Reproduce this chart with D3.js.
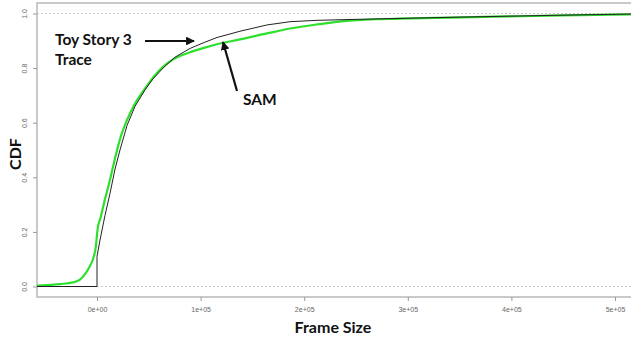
<!DOCTYPE html>
<html><head><meta charset="utf-8">
<script src="https://cdn.jsdelivr.net/npm/d3@7/dist/d3.min.js"></script>
<style>body{margin:0;background:#fff}svg{display:block}</style>
</head><body>
<svg id="c" width="631" height="339"></svg>
<script>
// Data (frame size in bytes, CDF)
const samX = [-58000,-45400,-35700,-23200,-16400,-11600,-6800,-3900,-1000,0,1000,2900,7700,12500,17400,22200,29000,36700,46300,54000,63700,73400,89800,104200,118700,138000,164000,186300,212400,244200,292500,340700,408300,466200,515400];
const samY = [0.003,0.006,0.009,0.015,0.025,0.045,0.075,0.10,0.15,0.19,0.22,0.245,0.32,0.39,0.47,0.54,0.61,0.67,0.725,0.765,0.805,0.832,0.858,0.875,0.89,0.905,0.927,0.945,0.96,0.974,0.981,0.985,0.99,0.994,0.997];
const traceX = [-58000,0,0,2900,7700,12500,17400,22200,29000,36700,46300,54000,63700,75300,89800,104200,115800,138000,164000,186300,212400,244200,292500,340700,408300,466200,515400];
const traceY = [0,0,0.11,0.17,0.26,0.34,0.43,0.50,0.59,0.66,0.72,0.76,0.80,0.84,0.872,0.895,0.912,0.935,0.958,0.97,0.975,0.978,0.982,0.986,0.991,0.995,0.998];
const xTicks = [0,100000,200000,300000,400000,500000];
const xTickLabels = ["0e+00","1e+05","2e+05","3e+05","4e+05","5e+05"];
const yTicks = [0,0.2,0.4,0.6,0.8,1.0];
const yTickLabels = ["0.0","0.2","0.4","0.6","0.8","1.0"];

const svg = d3.select("#c");
const x = d3.scaleLinear().domain([0,100000]).range([97,200.6]);
const y = d3.scaleLinear().domain([0,1]).range([286.5,13.5]);
const L=37, T=3, R=632, B=297;

// box
svg.append("rect").attr("x",L).attr("y",T).attr("width",R-L).attr("height",B-T)
  .attr("fill","none").attr("stroke","#b8b8b8").attr("stroke-width",1.5);

// dotted reference lines
[0,1].forEach(v=>{
  svg.append("line").attr("x1",L).attr("x2",R).attr("y1",y(v)).attr("y2",y(v))
    .attr("stroke","#c8c8c8").attr("stroke-width",1).attr("stroke-dasharray","2,2");
});

// axes
const gx = svg.append("g").attr("transform",`translate(0,${B})`)
  .call(d3.axisBottom(x).tickValues(xTicks).tickFormat((d,i)=>xTickLabels[i]).tickSize(4).tickPadding(6));
gx.select(".domain").remove();
gx.selectAll("line").attr("stroke","#999");
gx.selectAll("text").attr("fill","#666").style("font-family","Liberation Sans, Arial").style("font-size","7px");

const gy = svg.append("g").attr("transform",`translate(${L},0)`)
  .call(d3.axisLeft(y).tickValues(yTicks).tickFormat((d,i)=>yTickLabels[i]).tickSize(4).tickPadding(3));
gy.select(".domain").remove();
gy.selectAll("line").attr("stroke","#999");
gy.selectAll("text").attr("fill","#666").style("font-family","Liberation Sans, Arial").style("font-size","7px")
  .attr("text-anchor","middle").attr("dy",null)
  .attr("transform",function(){return `translate(${-10},0) rotate(-90)`;}).attr("x",0).attr("y",0);

// clip
svg.append("clipPath").attr("id","clip").append("rect").attr("x",L).attr("y",T).attr("width",R-L).attr("height",B-T);

svg.append("path").datum(samX.map((v,i)=>[v,samY[i]])).attr("clip-path","url(#clip)")
  .attr("d",d3.line().x(d=>x(d[0])).y(d=>y(d[1])).curve(d3.curveMonotoneX)).attr("fill","none").attr("stroke","#2ee02e").attr("stroke-width",2.2);
svg.append("path").datum(traceX.map((v,i)=>[v,traceY[i]])).attr("clip-path","url(#clip)")
  .attr("d",d3.line().x(d=>x(d[0])).y(d=>y(d[1]))).attr("fill","none").attr("stroke","#222").attr("stroke-width",1);

// annotations
const defs = svg.append("defs");
defs.append("marker").attr("id","ah").attr("viewBox","0 0 10 10").attr("refX",9).attr("refY",5)
  .attr("markerWidth",4).attr("markerHeight",4).attr("orient","auto-start-reverse").attr("markerUnits","strokeWidth")
  .append("path").attr("d","M0,0 L10,5 L0,10 z").attr("fill","#111");

const fontBold = "Lato, 'Open Sans', sans-serif";
svg.append("text").attr("x",55).attr("y",45).text("Toy Story 3").style("font-family",fontBold).style("font-weight","bold").style("font-size","15.5px").attr("fill","#111");
svg.append("text").attr("x",55).attr("y",65).text("Trace").style("font-family",fontBold).style("font-weight","bold").style("font-size","15.5px").attr("fill","#111");
svg.append("line").attr("x1",145).attr("y1",41).attr("x2",194).attr("y2",41).attr("stroke","#111").attr("stroke-width",2.2).attr("marker-end","url(#ah)");
svg.append("line").attr("x1",237).attr("y1",91).attr("x2",223).attr("y2",42).attr("stroke","#111").attr("stroke-width",2.2).attr("marker-end","url(#ah)");
svg.append("text").attr("x",243).attr("y",105).text("SAM").style("font-family",fontBold).style("font-weight","bold").style("font-size","15.5px").attr("fill","#111");

// axis titles
svg.append("text").attr("x",333).attr("y",333).attr("text-anchor","middle").text("Frame Size")
  .style("font-family",fontBold).style("font-weight","bold").style("font-size","16px").attr("fill","#111");
svg.append("text").attr("transform","translate(21,154) rotate(-90)").attr("text-anchor","middle").text("CDF")
  .style("font-family",fontBold).style("font-weight","bold").style("font-size","16px").attr("fill","#111");
</script>
</body></html>
